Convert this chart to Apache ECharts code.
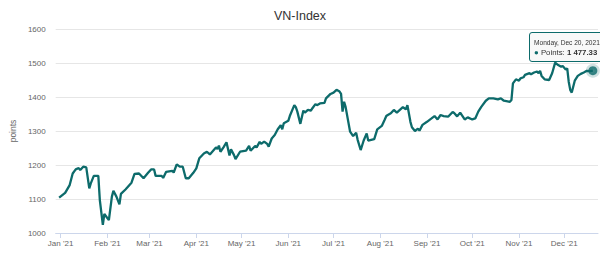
<!DOCTYPE html>
<html><head><meta charset="utf-8">
<script src="https://cdn.jsdelivr.net/npm/echarts@6/dist/echarts.min.js"></script>
<style>html,body{margin:0;padding:0;overflow:hidden;background:#fff}#c{width:600px;height:254px;overflow:hidden;position:relative}</style>
</head><body><div id="c"></div>
<script>
const dates = ['2020-12-31','2021-01-04','2021-01-07','2021-01-09','2021-01-11','2021-01-13','2021-01-14','2021-01-16','2021-01-18','2021-01-20','2021-01-21','2021-01-23','2021-01-26','2021-01-27','2021-01-29','2021-01-30','2021-02-02','2021-02-04','2021-02-05','2021-02-07','2021-02-09','2021-02-10','2021-02-13','2021-02-17','2021-02-19','2021-02-22','2021-02-25','2021-02-28','2021-03-02','2021-03-04','2021-03-05','2021-03-09','2021-03-10','2021-03-12','2021-03-16','2021-03-17','2021-03-19','2021-03-21','2021-03-23','2021-03-25','2021-03-27','2021-03-30','2021-04-01','2021-04-03','2021-04-06','2021-04-08','2021-04-10','2021-04-13','2021-04-14','2021-04-15','2021-04-16','2021-04-17','2021-04-19','2021-04-21','2021-04-23','2021-04-24','2021-04-26','2021-04-27','2021-04-30','2021-05-04','2021-05-06','2021-05-07','2021-05-10','2021-05-11','2021-05-13','2021-05-14','2021-05-16','2021-05-18','2021-05-19','2021-05-21','2021-05-23','2021-05-25','2021-05-27','2021-05-28','2021-05-29','2021-06-01','2021-06-02','2021-06-05','2021-06-06','2021-06-07','2021-06-09','2021-06-11','2021-06-12','2021-06-14','2021-06-16','2021-06-17','2021-06-19','2021-06-20','2021-06-22','2021-06-25','2021-06-26','2021-06-29','2021-07-01','2021-07-03','2021-07-05','2021-07-06','2021-07-07','2021-07-08','2021-07-09','2021-07-12','2021-07-14','2021-07-16','2021-07-17','2021-07-19','2021-07-21','2021-07-23','2021-07-24','2021-07-28','2021-07-30','2021-08-02','2021-08-04','2021-08-05','2021-08-06','2021-08-08','2021-08-10','2021-08-12','2021-08-14','2021-08-16','2021-08-18','2021-08-19','2021-08-21','2021-08-22','2021-08-24','2021-08-26','2021-08-27','2021-08-29','2021-09-01','2021-09-04','2021-09-06','2021-09-08','2021-09-10','2021-09-12','2021-09-15','2021-09-18','2021-09-19','2021-09-21','2021-09-23','2021-09-26','2021-09-28','2021-10-01','2021-10-03','2021-10-05','2021-10-07','2021-10-10','2021-10-12','2021-10-15','2021-10-18','2021-10-20','2021-10-22','2021-10-26','2021-10-27','2021-10-28','2021-10-30','2021-11-01','2021-11-02','2021-11-04','2021-11-05','2021-11-08','2021-11-09','2021-11-11','2021-11-13','2021-11-14','2021-11-15','2021-11-16','2021-11-18','2021-11-21','2021-11-23','2021-11-25','2021-11-27','2021-11-29','2021-11-30','2021-12-02','2021-12-03','2021-12-04','2021-12-05','2021-12-06','2021-12-08','2021-12-10','2021-12-12','2021-12-14','2021-12-16','2021-12-18','2021-12-20'];
const values = [1104,1118,1141,1175,1187,1191,1185,1195,1193,1131,1146,1168,1168,1097,1024,1056,1038,1107,1124,1107,1084,1115,1128,1148,1174,1175,1161,1177,1187,1187,1168,1168,1162,1180,1183,1178,1202,1195,1195,1161,1161,1177,1190,1220,1234,1239,1231,1246,1252,1247,1257,1239,1252,1267,1228,1246,1229,1217,1239,1242,1256,1242,1256,1252,1268,1262,1269,1262,1254,1278,1288,1305,1317,1305,1323,1330,1344,1376,1370,1357,1321,1360,1354,1362,1360,1367,1379,1376,1381,1383,1396,1409,1413,1421,1416,1409,1357,1386,1371,1298,1285,1295,1274,1244,1272,1293,1272,1276,1305,1315,1334,1344,1347,1352,1362,1354,1362,1370,1364,1376,1327,1311,1300,1307,1301,1318,1327,1337,1344,1334,1347,1344,1342,1356,1353,1343,1354,1334,1340,1334,1337,1357,1371,1389,1396,1396,1393,1396,1389,1386,1391,1440,1452,1448,1455,1458,1465,1470,1467,1472,1475,1470,1477,1462,1452,1450,1470,1501,1494,1489,1491,1481,1484,1445,1421,1413,1448,1462,1468,1472,1477,1476,1477.33];
const yTicks = [1000, 1600, 100];
const monthNames = ['Jan','Feb','Mar','Apr','May','Jun','Jul','Aug','Sep','Oct','Nov','Dec'];
const weekdayNames = ['Sunday','Monday','Tuesday','Wednesday','Thursday','Friday','Saturday'];
const seriesName = 'Points';
const titleText = 'VN-Index';
const yName = 'points';

const teal = '#0d6b6b';
const font = '"Liberation Sans", Arial, sans-serif';
function parseD(s){const p=s.split('-').map(Number);return new Date(p[0],p[1]-1,p[2]).getTime();}
const data = dates.map((d,i)=>[parseD(d), values[i]]);
const last = data[data.length-1];
function fmtNum(v){const s=v.toFixed(2);const [a,b]=s.split('.');return a.replace(/\B(?=(\d{3})+(?!\d))/g,' ')+'.'+b;}

const chart = echarts.init(document.getElementById('c'), null, {renderer:'svg'});
chart.setOption({
  animation:false,
  textStyle:{fontFamily:font},
  title:{text:titleText,left:'center',top:4,textStyle:{fontSize:12.5,fontWeight:'normal',color:'#333',fontFamily:font}},
  grid:{left:48,right:2,top:29,bottom:21},
  xAxis:{type:'time',
    min:new Date(2020,11,28,17,30).getTime(),
    max:new Date(2021,11,23,10,0).getTime(),
    minInterval:28*864e5,maxInterval:31*864e5,splitNumber:12,
    axisLine:{lineStyle:{color:'#ccd6eb'}},
    axisTick:{show:true,length:5,lineStyle:{color:'#ccd6eb'}},
    splitLine:{show:false},
    axisLabel:{fontSize:8,color:'#666',margin:6,fontFamily:font,
      formatter:(v)=>{const d=new Date(v);return monthNames[d.getMonth()]+" '"+String(d.getFullYear()).slice(2);}}
  },
  yAxis:{type:'value',min:yTicks[0],max:yTicks[1],interval:yTicks[2],
    name:yName,nameLocation:'middle',nameGap:32,
    nameTextStyle:{fontSize:8.5,color:'#666',fontFamily:font},
    axisLine:{show:false},axisTick:{show:false},
    splitLine:{lineStyle:{color:'#e6e6e6'}},
    axisLabel:{fontSize:8,color:'#666',margin:10,fontFamily:font,formatter:(v)=>String(v)}
  },
  tooltip:{trigger:'item',alwaysShowContent:true,transitionDuration:0,
    position:()=>[529,32],
    backgroundColor:'rgba(247,247,247,0.85)',borderColor:teal,borderWidth:1,padding:[5,6,3,4],
    extraCssText:'border-radius:3px;box-shadow:none;white-space:nowrap;',
    formatter:()=>{const d=new Date(last[0]);
      const head=weekdayNames[d.getDay()]+', '+monthNames[d.getMonth()]+' '+d.getDate()+', '+d.getFullYear();
      return '<div style="font-family:'+font.replace(/"/g,"'")+';font-size:6.6px;line-height:10px;color:#333">'+head+'</div>'+
        '<div style="font-family:'+font.replace(/"/g,"'")+';font-size:7.8px;line-height:10px;color:#333"><span style="color:'+teal+'">●</span> '+seriesName+': <b>'+fmtNum(last[1])+'</b></div>';}
  },
  series:[
    {type:'line',name:seriesName,data:data,showSymbol:false,silent:true,lineStyle:{width:2.3,color:teal},itemStyle:{color:teal},tooltip:{show:false}},
    {type:'scatter',name:seriesName,data:[last],symbolSize:9,itemStyle:{color:teal,borderColor:'rgba(13,107,107,0.25)',borderWidth:5},emphasis:{scale:false}}
  ]
});
chart.dispatchAction({type:'showTip',seriesIndex:1,dataIndex:0});
</script></body></html>
